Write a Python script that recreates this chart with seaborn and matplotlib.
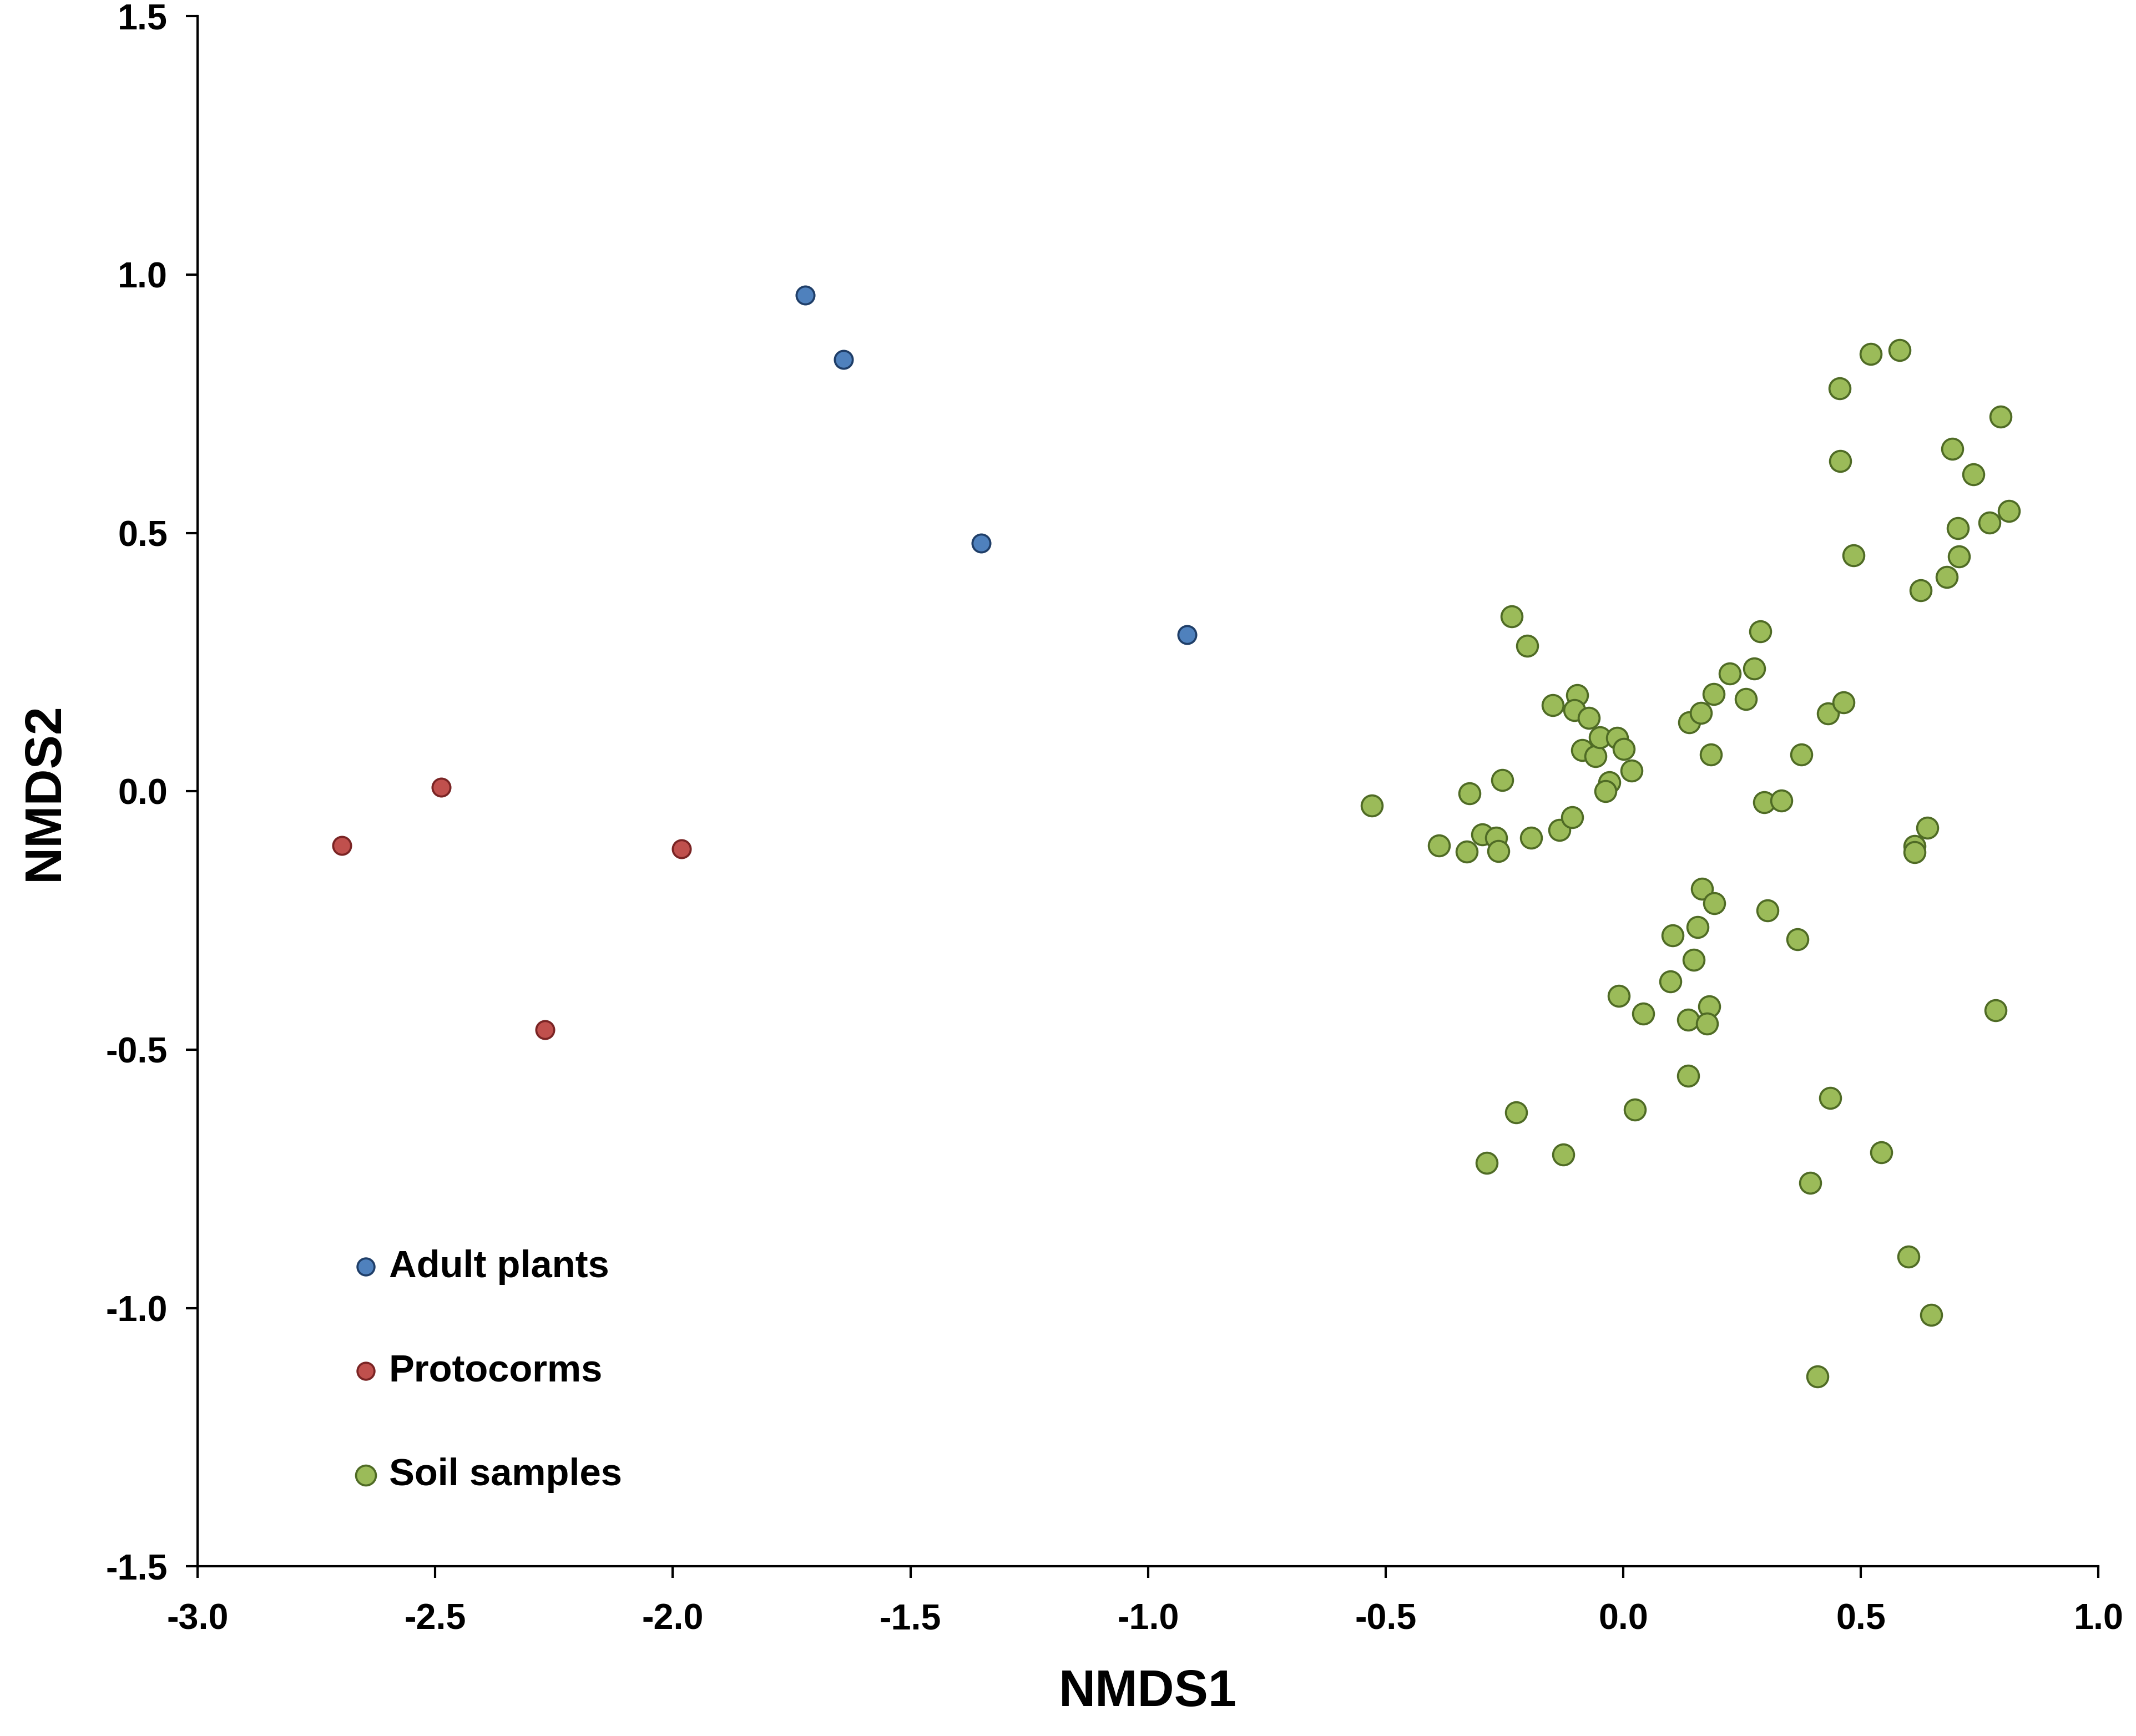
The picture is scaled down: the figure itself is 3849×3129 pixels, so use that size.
import pandas as pd
import matplotlib
matplotlib.use("Agg")
import matplotlib.pyplot as plt
import seaborn as sns

# Data
adult_x = [-1.721, -1.641, -1.351, -0.918]
adult_y = [0.960, 0.836, 0.480, 0.303]

proto_x = [-2.696, -2.487, -1.982, -2.269]
proto_y = [-0.105, 0.008, -0.111, -0.461]

soil_x = [-0.529, -0.388, -0.324, -0.329, -0.297, -0.268, -0.263, -0.255, -0.235, -0.202,
          -0.194, -0.148, -0.134, -0.108, -0.097, -0.103, -0.087, -0.072, -0.058, -0.049,
          -0.029, -0.038, -0.013, 0.001, 0.018, 0.139, 0.163, 0.190, 0.224, 0.185,
          0.258, 0.275, 0.288, 0.296, 0.333, 0.375, 0.431, 0.463, 0.455, 0.456,
          0.485, 0.521, 0.581, 0.794, 0.692, 0.737, 0.812, 0.771, 0.704, 0.706,
          0.681, 0.626, 0.640, 0.613, 0.613, 0.166, 0.192, 0.303, 0.156, 0.104,
          0.367, 0.148, 0.099, -0.009, 0.042, 0.181, 0.137, 0.176, 0.784, 0.136,
          0.435, -0.226, 0.025, -0.287, -0.126, 0.543, 0.394, 0.600, 0.648, 0.409]
soil_y = [-0.028, -0.105, -0.004, -0.117, -0.083, -0.090, -0.116, 0.022, 0.339, 0.282,
          -0.090, 0.167, -0.075, -0.050, 0.186, 0.157, 0.080, 0.142, 0.068, 0.105,
          0.018, 0.000, 0.104, 0.082, 0.040, 0.133, 0.152, 0.188, 0.228, 0.071,
          0.179, 0.238, 0.310, -0.021, -0.018, 0.071, 0.151, 0.172, 0.780, 0.639,
          0.457, 0.847, 0.854, 0.725, 0.663, 0.614, 0.543, 0.520, 0.509, 0.455,
          0.415, 0.389, -0.071, -0.106, -0.118, -0.189, -0.216, -0.230, -0.263, -0.279,
          -0.286, -0.326, -0.368, -0.396, -0.430, -0.416, -0.442, -0.450, -0.424, -0.550,
          -0.593, -0.621, -0.616, -0.719, -0.703, -0.699, -0.758, -0.901, -1.013, -1.132]

groups = ["Adult plants", "Protocorms", "Soil samples"]
fill_colors = {"Adult plants": "#4F81BD", "Protocorms": "#C0504D", "Soil samples": "#9BBB59"}
edge_colors = {"Adult plants": "#1F3E68", "Protocorms": "#7A2424", "Soil samples": "#4F6B25"}
marker_sizes = {"Adult plants": 60, "Protocorms": 60, "Soil samples": 82}

df = pd.concat([
    pd.DataFrame({"NMDS1": adult_x, "NMDS2": adult_y, "group": "Adult plants"}),
    pd.DataFrame({"NMDS1": proto_x, "NMDS2": proto_y, "group": "Protocorms"}),
    pd.DataFrame({"NMDS1": soil_x, "NMDS2": soil_y, "group": "Soil samples"}),
])

sns.set_style("white")
plt.rcParams["font.family"] = ["Liberation Sans", "DejaVu Sans"]
plt.rcParams["text.color"] = "black"
plt.rcParams["axes.labelcolor"] = "black"

fig = plt.figure(figsize=(12.833, 10.43), dpi=300)
ax = fig.add_axes([0.0925, 0.0977, 0.8897, 0.8929])

for g in groups:
    sns.scatterplot(
        data=df[df["group"] == g],
        x="NMDS1",
        y="NMDS2",
        color=fill_colors[g],
        edgecolor=edge_colors[g],
        linewidth=0.9,
        s=marker_sizes[g],
        label=g,
        ax=ax,
        zorder=3
    )

ax.set_xlim(-3.0, 1.0)
ax.set_ylim(-1.5, 1.5)
ax.set_xticks([-3.0, -2.5, -2.0, -1.5, -1.0, -0.5, 0.0, 0.5, 1.0])
ax.set_yticks([-1.5, -1.0, -0.5, 0.0, 0.5, 1.0, 1.5])
ax.xaxis.set_major_formatter(matplotlib.ticker.FormatStrFormatter("%.1f"))
ax.yaxis.set_major_formatter(matplotlib.ticker.FormatStrFormatter("%.1f"))

sns.despine(ax=ax)
for side in ["left", "bottom"]:
    ax.spines[side].set_color("black")
    ax.spines[side].set_linewidth(1.0)

ax.tick_params(axis="x", direction="out", length=5, width=1.0, pad=11,
               labelsize=15.5, colors="black", bottom=True)
ax.tick_params(axis="y", direction="out", length=5, width=1.0, pad=8,
               labelsize=15.5, colors="black", left=True)
for lab in ax.get_xticklabels() + ax.get_yticklabels():
    lab.set_fontweight("bold")

ax.set_xlabel("NMDS1", fontsize=22, fontweight="bold", labelpad=14, color="black")
ax.set_ylabel("NMDS2", fontsize=22, fontweight="bold", labelpad=16, color="black")

leg = ax.legend(
    loc="center left",
    bbox_to_anchor=(0.0785, 0.126),
    frameon=False,
    fontsize=16.5,
    handlelength=1.0,
    handletextpad=0.1,
    labelspacing=1.8,
    borderpad=0,
    borderaxespad=0,
    markerscale=0.95,
)
for text in leg.get_texts():
    text.set_fontweight("bold")
    text.set_color("black")

fig.savefig("out.png", dpi=300)
